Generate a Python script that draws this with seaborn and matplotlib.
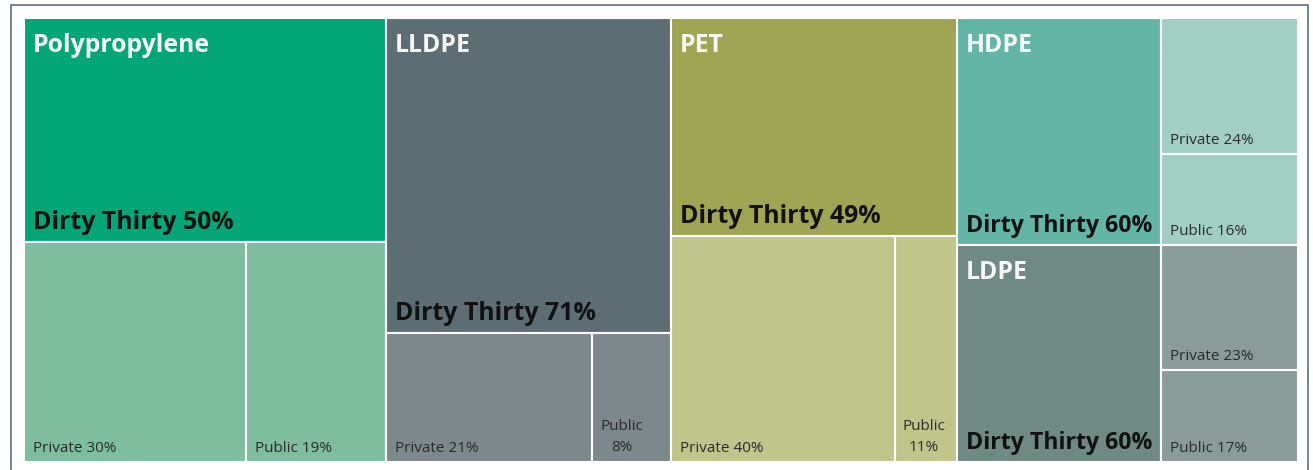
import matplotlib
matplotlib.use("Agg")
import matplotlib.pyplot as plt
import seaborn as sns
from matplotlib.transforms import offset_copy
from matplotlib.patches import Rectangle

# ---- data ----
plastics = ["Polypropylene", "LLDPE", "PET", "HDPE", "LDPE"]
plastic_share = [28.4, 22.4, 22.4, 13.7, 13.1]      # relative size of each polymer
dirty_thirty = [50, 71, 49, 60, 60]                 # % Dirty Thirty
private = [30, 21, 40, 24, 23]                      # % Private
public = [19, 8, 11, 16, 17]                        # % Public

# ---- style ----
dt_colors = ["#04a677", "#5c6d73", "#a0a553", "#63b6a6", "#6f8a82"]
sub_colors = ["#7ebd9d", "#7c888c", "#c0c58c", "#a1cfc3", "#8a9c9a"]
groups = [[0], [1], [2], [3, 4]]                    # column grouping of the treemap
orient = ["v", "v", "v", "h", "h"]                  # how each polymer is split

sns.set_theme(style="white")
plt.rcParams['font.family'] = ['Open Sans', 'DejaVu Sans']

W, H = 1313, 470
fig = plt.figure(figsize=(W / 100, H / 100), dpi=100)
fig.patch.set_facecolor("white")
ax = fig.add_axes([24 / W, 8 / H, 1274 / W, 444 / H])
total = sum(plastic_share)
ax.set_xlim(0, total)
ax.set_ylim(0, 1)
ax.axis("off")
renderer = fig.canvas.get_renderer()


def off(dx, dy):
    return offset_copy(ax.transData, fig=fig, x=dx, y=dy, units="dots")


def cell(x0, y0, w, h, color):
    ax.bar(x0, h, width=w, bottom=y0, align="edge", color=color,
           edgecolor="white", linewidth=1.5)


def px_width(w):
    return ax.transData.transform((w, 0))[0] - ax.transData.transform((0, 0))[0]


def fit(t, maxw):
    wpx = t.get_window_extent(renderer).width
    if wpx > maxw:
        t.set_fontsize(t.get_fontsize() * maxw / wpx)


SUB_FS = 11
SUB_COL = "#2b2b2b"


def sub_label(x0, y0, w, text, pct):
    if px_width(w) < 100:
        ax.text(x0, y0, f"{pct}%", transform=off(29, 11), ha="center",
                va="baseline", fontsize=SUB_FS, color=SUB_COL)
        ax.text(x0, y0, text, transform=off(29, 32), ha="center",
                va="baseline", fontsize=SUB_FS, color=SUB_COL)
    else:
        ax.text(x0, y0, f"{text} {pct}%", transform=off(9, 10), ha="left",
                va="baseline", fontsize=SUB_FS, color=SUB_COL)


x = 0.0
for g in groups:
    gw = sum(plastic_share[i] for i in g)
    top = 1.0
    for i in g:
        h = plastic_share[i] / gw
        y0 = top - h
        s = dirty_thirty[i] + private[i] + public[i]
        if orient[i] == "v":
            dh = h * dirty_thirty[i] / s
            cell(x, top - dh, gw, dh, dt_colors[i])
            dt_x, dt_y, dt_w = x, top - dh, gw
            pw = gw * private[i] / (private[i] + public[i])
            cell(x, y0, pw, h - dh, sub_colors[i])
            cell(x + pw, y0, gw - pw, h - dh, sub_colors[i])
            sub_label(x, y0, pw, "Private", private[i])
            sub_label(x + pw, y0, gw - pw, "Public", public[i])
        else:
            dw = gw * dirty_thirty[i] / s
            cell(x, y0, dw, h, dt_colors[i])
            dt_x, dt_y, dt_w = x, y0, dw
            ph = h * private[i] / (private[i] + public[i])
            cell(x + dw, top - ph, gw - dw, ph, sub_colors[i])
            cell(x + dw, y0, gw - dw, h - ph, sub_colors[i])
            sub_label(x + dw, top - ph, gw - dw, "Private", private[i])
            sub_label(x + dw, y0, gw - dw, "Public", public[i])
        ax.text(x, top, plastics[i], transform=off(9, -34), ha="left",
                va="baseline", fontsize=17.8, fontweight="bold", color="#f7f9f8")
        t = ax.text(dt_x, dt_y, f"Dirty Thirty {dirty_thirty[i]}%",
                    transform=off(9, 13), ha="left", va="baseline",
                    fontsize=17.9, fontweight="bold", color="#111111")
        fit(t, px_width(dt_w) - 18)
        top = y0
    x += gw

fig.patches.append(Rectangle((11 / W, -0.05), (1308 - 11) / W, 0.05 + 465 / H,
                             transform=fig.transFigure, fill=False,
                             edgecolor="#5b7083", linewidth=1.2))

fig.savefig("out.png", dpi=100, facecolor="white")
